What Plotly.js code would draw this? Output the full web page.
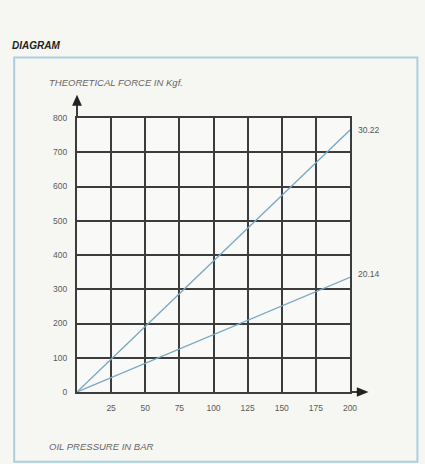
<!DOCTYPE html>
<html><head><meta charset="utf-8">
<script src="https://cdn.plot.ly/plotly-3.0.1.min.js"></script>
<style>html,body{margin:0;padding:0;background:#f6f7f3;}#chart{width:425px;height:464px;}</style>
</head><body><div id="chart"></div>
<script>
const pressure = [0, 200];
const force3022 = [0, 765];
const force2014 = [0, 335];
const seriesNames = ["30.22", "20.14"];
const xTicks = [25, 50, 75, 100, 125, 150, 175, 200];
const yTicks = [0, 100, 200, 300, 400, 500, 600, 700, 800];

const lineStyle = {color: '#7aa8c4', width: 1.3};
const traces = [
  {x: pressure, y: force3022, mode: 'lines', line: lineStyle, name: seriesNames[0], hoverinfo: 'none'},
  {x: pressure, y: force2014, mode: 'lines', line: lineStyle, name: seriesNames[1], hoverinfo: 'none'}
];

const gridCol = '#3c3c3c';
const tickFont = {family: 'Liberation Sans', size: 8.5, color: '#5a5a5a'};

const layout = {
  width: 425, height: 464,
  margin: {l: 77, r: 75, t: 118, b: 72},
  paper_bgcolor: '#f6f7f3', plot_bgcolor: '#f9faf7',
  showlegend: false,
  xaxis: {range: [0, 200], tickvals: xTicks, ticktext: xTicks.map(String),
    showgrid: true, gridcolor: gridCol, gridwidth: 2, zeroline: false,
    showline: true, linecolor: gridCol, linewidth: 2, mirror: true,
    ticks: '', tickfont: tickFont, ticklabelstandoff: 7, fixedrange: true},
  yaxis: {range: [0, 800], tickvals: yTicks, ticktext: yTicks.map(String),
    showgrid: true, gridcolor: gridCol, gridwidth: 2, zeroline: false,
    showline: true, linecolor: gridCol, linewidth: 2, mirror: true,
    ticks: '', tickfont: tickFont, ticklabelstandoff: 6, fixedrange: true},
  shapes: [
    {type: 'rect', xref: 'paper', yref: 'paper', x0: -0.23, x1: 1.247, y0: -0.255, y1: 1.221,
     line: {color: '#a9cfe0', width: 2}, fillcolor: 'rgba(0,0,0,0)', layer: 'below'},
    {type: 'line', xref: 'paper', yref: 'paper', x0: 0, x1: 0, y0: 1, y1: 1.05,
     line: {color: gridCol, width: 2}},
    {type: 'line', xref: 'paper', yref: 'paper', x0: 1, x1: 1.03, y0: 0, y1: 0,
     line: {color: gridCol, width: 2}},
    {type: 'path', xref: 'paper', yref: 'paper',
     path: 'M -0.018 1.045 L 0.018 1.045 L 0 1.085 Z', fillcolor: '#222', line: {width: 0}},
    {type: 'path', xref: 'paper', yref: 'paper',
     path: 'M 1.025 -0.017 L 1.025 0.017 L 1.068 0 Z', fillcolor: '#222', line: {width: 0}}
  ],
  annotations: [
    {xref: 'x', yref: 'y', x: pressure[1], y: force3022[1], xshift: 6, yshift: 0, text: seriesNames[0],
     showarrow: false, xanchor: 'left', font: {family: 'Liberation Sans', size: 8.5, color: '#555'}},
    {xref: 'x', yref: 'y', x: pressure[1], y: force2014[1], xshift: 6, yshift: 3, text: seriesNames[1],
     showarrow: false, xanchor: 'left', font: {family: 'Liberation Sans', size: 8.5, color: '#555'}},
    {xref: 'paper', yref: 'paper', x: -0.11, y: 1.128, text: '<i>THEORETICAL FORCE IN Kgf.</i>',
     showarrow: false, xanchor: 'left', yanchor: 'middle', font: {family: 'Liberation Sans', size: 9.5, color: '#666'}},
    {xref: 'paper', yref: 'paper', x: -0.11, y: -0.2, text: '<i>OIL PRESSURE IN BAR</i>',
     showarrow: false, xanchor: 'left', yanchor: 'middle', font: {family: 'Liberation Sans', size: 9.5, color: '#666'}},
    {xref: 'paper', yref: 'paper', x: -0.245, y: 1.265, text: '<b><i>DIAGRAM</i></b>',
     showarrow: false, xanchor: 'left', yanchor: 'middle', font: {family: 'Liberation Sans', size: 10, color: '#222'}}
  ]
};

Plotly.newPlot('chart', traces, layout, {displayModeBar: false, staticPlot: true});
</script></body></html>
